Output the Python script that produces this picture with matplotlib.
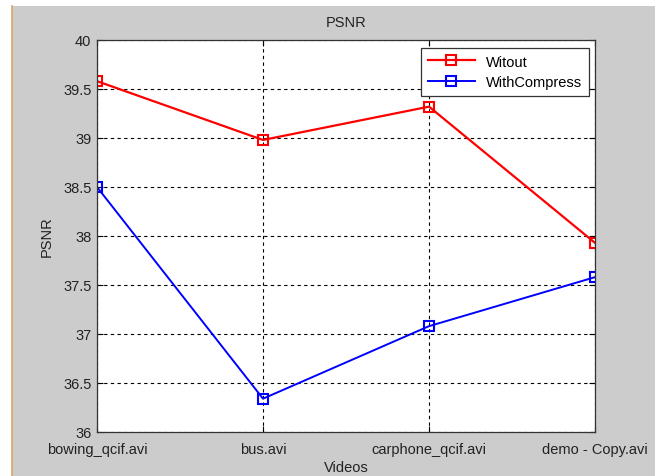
import matplotlib
matplotlib.use("Agg")
import matplotlib.pyplot as plt
from matplotlib.patches import Rectangle
from matplotlib.lines import Line2D

videos = ["bowing_qcif.avi", "bus.avi", "carphone_qcif.avi", "demo - Copy.avi"]
witout = [39.58, 38.98, 39.32, 37.93]
with_compress = [38.50, 36.34, 37.08, 37.58]
yticks = [36, 36.5, 37, 37.5, 38, 38.5, 39, 39.5, 40]
ytick_labels = ["36", "36.5", "37", "37.5", "38", "38.5", "39", "39.5", "40"]

plt.rcParams['font.family'] = ['Liberation Sans', 'DejaVu Sans']
FS = 10.5

W, H = 659, 477
fig = plt.figure(figsize=(W / 100, H / 100), dpi=100)
fig.patch.set_facecolor("white")
# gray MATLAB figure background
fig.patches.append(Rectangle((12 / W, 0), (655 - 12) / W, (477 - 7) / H,
                             transform=fig.transFigure, facecolor="#cccccc",
                             edgecolor="none", zorder=-10))
fig.lines.append(Line2D([12 / W, 12 / W], [0, (477 - 7) / H], transform=fig.transFigure,
                        color="#d9a860", lw=1.2, zorder=-5))

left, right, top, bottom = 97, 595, 41, 433
ax = fig.add_axes([left / W, 1 - bottom / H, (right - left) / W, (bottom - top) / H])
ax.set_facecolor("white")

x = list(range(len(videos)))
ax.plot(x, witout, color="red", lw=1.6, marker="s", markersize=7.5,
        markerfacecolor="none", markeredgecolor="red", markeredgewidth=1.5, label="Witout")
ax.plot(x, with_compress, color="blue", lw=1.4, marker="s", markersize=7.5,
        markerfacecolor="none", markeredgecolor="blue", markeredgewidth=1.5, label="WithCompress")

ax.set_xlim(0, len(videos) - 1)
ax.set_ylim(36, 40)
ax.set_xticks(x)
ax.set_xticklabels(videos, fontsize=FS, color="#222222")
ax.set_yticks(yticks)
ax.set_yticklabels(ytick_labels, fontsize=FS, color="#222222")
ax.tick_params(direction="in", length=4, width=0.8, top=True, right=True)
ax.tick_params(axis="x", pad=7)
ax.tick_params(axis="y", pad=4)
ax.grid(True, color="black", linestyle=(0, (3, 3)), lw=0.8)
for s in ax.spines.values():
    s.set_color("#333333")
    s.set_linewidth(0.9)

ax.set_title("PSNR", fontsize=FS, color="#222222", pad=10)
ax.set_xlabel("Videos", fontsize=FS, color="#222222", labelpad=3)
ax.set_ylabel("PSNR", fontsize=FS, color="#222222", labelpad=7)

leg = ax.legend(loc="upper right", bbox_to_anchor=(1 - 6 / 498, 1 - 8 / 392),
                borderaxespad=0, fontsize=FS,
                fancybox=False, framealpha=1, edgecolor="#333333",
                handlelength=3.2, borderpad=0.45, labelspacing=0.45)
leg.get_frame().set_linewidth(0.9)

fig.savefig("out.png", dpi=100, facecolor=fig.get_facecolor())
